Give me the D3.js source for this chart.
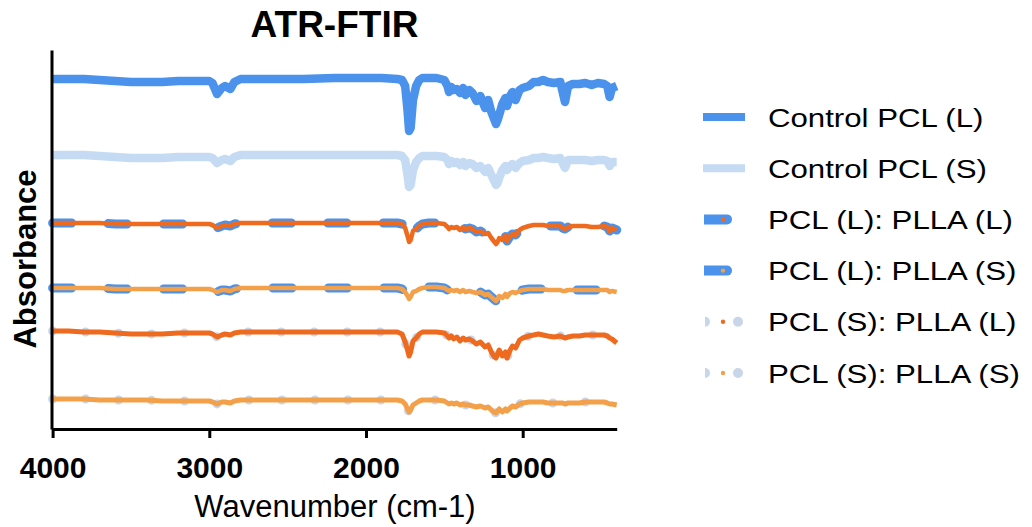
<!DOCTYPE html>
<html>
<head>
<meta charset="utf-8">
<script src="https://cdn.jsdelivr.net/npm/d3@7"></script>
<style>
  html, body { margin: 0; padding: 0; background: #fff; }
  svg { display: block; }
  text { font-family: "Liberation Sans", Arial, sans-serif; fill: #000; }
</style>
</head>
<body>
<svg id="chart" width="1032" height="527"></svg>
<script>
// Wavenumber grid (cm-1)
const wavenumbers = [4000,3900,3800,3700,3600,3500,3400,3300,3200,3100,3000,2980,2950,2920,2900,2865,2840,2800,2600,2400,2200,2000,1900,1800,1770,1750,1735,1725,1715,1700,1680,1660,1640,1600,1550,1500,1480,1470,1455,1440,1420,1400,1380,1365,1340,1320,1295,1270,1240,1220,1200,1185,1170,1160,1150,1130,1110,1100,1080,1065,1045,1020,1000,960,930,900,870,840,800,760,745,730,710,680,640,600,560,520,480,460,445,430,400];

// Offset absorbance values (a.u.)
const controlPCL_L = [35.0,35.0,35.0,34.9,34.8,34.7,34.7,34.7,34.8,34.8,34.8,34.6,33.5,34.1,34.3,34.0,34.7,35.0,35.0,35.0,35.1,35.1,35.1,35.0,34.9,34.3,31.9,29.8,30.1,32.9,34.3,34.9,35.1,35.1,35.1,34.9,34.3,33.7,34.2,33.9,34.0,33.6,34.1,33.4,33.9,33.6,32.8,33.3,32.1,32.9,31.7,31.1,30.5,30.9,31.4,32.5,33.1,32.3,33.3,33.7,32.9,33.9,34.1,34.3,34.7,34.7,34.9,34.7,34.6,34.7,33.7,32.7,34.3,34.5,34.5,34.6,34.4,34.6,34.5,34.3,33.2,34.1,34.3];
const controlPCL_S = [27.4,27.4,27.4,27.3,27.2,27.1,27.1,27.1,27.2,27.2,27.2,27.1,26.6,26.9,27.0,26.8,27.2,27.4,27.4,27.4,27.4,27.4,27.4,27.4,27.3,26.9,25.4,24.2,24.4,25.9,26.7,27.1,27.3,27.3,27.3,27.2,26.9,26.5,26.8,26.6,26.7,26.4,26.7,26.3,26.6,26.5,26.1,26.3,25.7,26.1,25.4,24.9,24.4,24.6,25.1,25.9,26.3,25.9,26.3,26.5,26.1,26.6,26.8,26.9,27.1,27.1,27.2,27.1,27.0,27.1,26.6,26.1,26.9,26.9,26.9,26.9,26.8,26.9,26.9,26.8,26.3,26.7,26.7];
const pclL_pllaL = [20.6,20.6,20.6,20.6,20.5,20.5,20.5,20.5,20.5,20.5,20.5,20.4,20.1,20.3,20.4,20.3,20.5,20.6,20.6,20.6,20.6,20.6,20.6,20.6,20.5,20.1,19.3,18.7,18.9,19.8,20.0,20.3,20.5,20.6,20.6,20.5,20.2,20.0,20.2,20.1,20.2,19.9,20.2,20.0,20.1,20.0,19.7,19.8,19.5,19.6,19.1,18.8,18.5,18.7,19.1,18.9,19.3,18.8,19.3,19.5,19.4,19.9,20.1,20.3,20.4,20.4,20.4,20.3,20.3,20.3,20.1,20.0,20.2,20.3,20.3,20.3,20.2,20.2,20.3,20.2,19.8,20.1,19.9];
const pclL_pllaS = [14.1,14.1,14.1,14.1,14.0,14.0,14.0,14.0,14.0,14.0,14.0,13.9,13.7,13.9,13.9,13.8,14.0,14.1,14.1,14.1,14.1,14.1,14.1,14.1,14.0,13.7,13.3,13.0,13.2,13.7,13.8,14.0,14.1,14.2,14.2,14.1,13.9,13.8,13.9,13.8,13.9,13.7,13.9,13.7,13.8,13.7,13.6,13.7,13.4,13.5,13.2,13.0,12.8,13.0,13.3,13.1,13.5,13.2,13.6,13.7,13.6,13.8,13.9,14.0,14.0,14.0,14.0,13.9,13.9,13.9,13.8,13.8,13.9,13.9,13.9,13.9,13.9,13.9,13.9,13.9,13.7,13.8,13.7];
const pclS_pllaL = [9.8,9.8,9.7,9.7,9.6,9.5,9.5,9.5,9.6,9.6,9.6,9.5,9.2,9.4,9.5,9.4,9.6,9.7,9.7,9.7,9.7,9.7,9.7,9.7,9.5,8.7,7.9,7.3,7.7,8.8,9.1,9.5,9.7,9.7,9.7,9.6,9.3,9.1,9.3,9.0,9.2,8.8,9.1,8.9,9.0,8.8,8.5,8.7,8.2,8.4,7.7,7.3,7.1,7.5,7.9,7.3,7.7,7.1,7.9,8.3,8.1,8.9,9.1,9.3,9.4,9.5,9.4,9.3,9.2,9.3,9.2,9.1,9.2,9.3,9.3,9.4,9.4,9.4,9.4,9.3,9.1,9.0,8.6];
const pclS_pllaS = [3.0,3.0,3.0,2.9,2.9,2.9,2.9,2.8,2.8,2.8,2.8,2.7,2.5,2.7,2.7,2.6,2.8,2.9,2.9,2.9,2.9,2.9,2.9,2.9,2.8,2.5,2.0,1.7,1.9,2.4,2.6,2.8,2.9,2.9,2.9,2.8,2.6,2.5,2.6,2.5,2.6,2.4,2.5,2.4,2.4,2.3,2.2,2.3,2.1,2.2,1.9,1.7,1.6,1.8,2.0,1.7,2.0,1.8,2.1,2.3,2.2,2.5,2.6,2.7,2.7,2.7,2.7,2.6,2.6,2.6,2.6,2.5,2.6,2.6,2.6,2.7,2.7,2.7,2.7,2.6,2.5,2.5,2.4];

const seriesNames = ["Control PCL (L)","Control PCL (S)","PCL (L): PLLA (L)","PCL (L): PLLA (S)","PCL (S): PLLA (L)","PCL (S): PLLA (S)"];
const xTicks = [4000, 3000, 2000, 1000];
const xDomain = [4000, 400];
const yDomain = [0, 37.9];

const C = {
  blue: "#4a92ec",
  lightBlue: "#c5dbf4",
  dotBlue: "#c9d5e8",
  darkOrange: "#ed6a1e",
  lightOrange: "#f3a04b"
};

const styles = [
  { under: null, line: { color: C.blue, width: 8.5 } },
  { under: null, line: { color: C.lightBlue, width: 8.5 } },
  { under: { color: C.blue, width: 9, dash: "19,36.5" }, line: { color: C.darkOrange, width: 4.5 } },
  { under: { color: C.blue, width: 9, dash: "19,36.5" }, line: { color: C.lightOrange, width: 4.5 } },
  { under: { color: C.dotBlue, width: 9, dash: "0,33" }, line: { color: C.darkOrange, width: 5 } },
  { under: { color: C.dotBlue, width: 9, dash: "0,33" }, line: { color: C.lightOrange, width: 5 } }
];
const allValues = [controlPCL_L, controlPCL_S, pclL_pllaL, pclL_pllaS, pclS_pllaL, pclS_pllaS];

const svg = d3.select("#chart");
const x = d3.scaleLinear().domain(xDomain).range([52.6, 616.7]);
const y = d3.scaleLinear().domain(yDomain).range([429, 50]);

const line = d3.line()
  .x((d, i) => x(wavenumbers[i]))
  .y(d => y(d))
  .curve(d3.curveLinear);

const plot = svg.append("g");
allValues.forEach((vals, k) => {
  const st = styles[k];
  if (st.under) {
    plot.append("path").attr("d", line(vals))
      .attr("fill", "none").attr("stroke", st.under.color)
      .attr("stroke-width", st.under.width)
      .attr("stroke-linecap", "round").attr("stroke-linejoin", "round")
      .attr("stroke-dasharray", st.under.dash);
  }
  plot.append("path").attr("d", line(vals))
    .attr("fill", "none").attr("stroke", st.line.color)
    .attr("stroke-width", st.line.width)
    .attr("stroke-linejoin", "round");
});

// Axes
const xAxis = svg.append("g").attr("transform", "translate(0,429)")
  .call(d3.axisBottom(x).tickValues(xTicks).tickSize(9).tickSizeOuter(0).tickPadding(19).tickFormat(d3.format("d")));
xAxis.select(".domain").attr("stroke", "#000").attr("stroke-width", 3);
xAxis.selectAll(".tick line").attr("stroke", "#000").attr("stroke-width", 3);
xAxis.selectAll(".tick text").attr("font-size", 30).attr("font-weight", "bold")
  .attr("font-family", "'Liberation Sans', Arial, sans-serif").attr("fill", "#000");

const yAxis = svg.append("g").attr("transform", "translate(51.5,0)")
  .call(d3.axisLeft(y).tickValues([]).tickSizeOuter(0));
yAxis.select(".domain").attr("stroke", "#000").attr("stroke-width", 3);

// Titles
svg.append("text").attr("x", 334.5).attr("y", 37).attr("text-anchor", "middle")
  .attr("font-size", 37).attr("font-weight", "bold").text("ATR-FTIR");
svg.append("text").attr("x", 335).attr("y", 517).attr("text-anchor", "middle")
  .attr("font-size", 31).text("Wavenumber (cm-1)");
svg.append("text").attr("transform", "translate(36,259) rotate(-90)").attr("text-anchor", "middle")
  .attr("font-size", 31).attr("font-weight", "bold").text("Absorbance");

// Legend
const legendY = d3.scalePoint().domain(seriesNames).range([117, 373]);
const lg = svg.append("g");
seriesNames.forEach((name, k) => {
  const cy = legendY(name);
  const st = styles[k];
  const g = lg.append("g");
  if (k < 2) {
    g.append("line").attr("x1", 703).attr("x2", 745).attr("y1", cy).attr("y2", cy)
      .attr("stroke", st.line.color).attr("stroke-width", 8);
  } else if (k < 4) {
    g.append("path").attr("d", `M704,${cy - 5}H727A5,5 0 0 1 727,${cy + 5}H704Z`).attr("fill", st.under.color);
    g.append("circle").attr("cx", 723).attr("cy", cy).attr("r", 2.2).attr("fill", st.line.color);
  } else {
    g.append("path").attr("d", `M705,${cy - 5}A5,5 0 0 1 705,${cy + 5}Z`).attr("fill", st.under.color);
    g.append("circle").attr("cx", 723).attr("cy", cy).attr("r", 2.2).attr("fill", st.line.color);
    g.append("circle").attr("cx", 738).attr("cy", cy).attr("r", 5).attr("fill", st.under.color);
  }
  g.append("text").attr("transform", `translate(768,${cy + 9.5}) scale(1.2,1)`)
    .attr("font-size", 26).text(name);
});
</script>
</body>
</html>
